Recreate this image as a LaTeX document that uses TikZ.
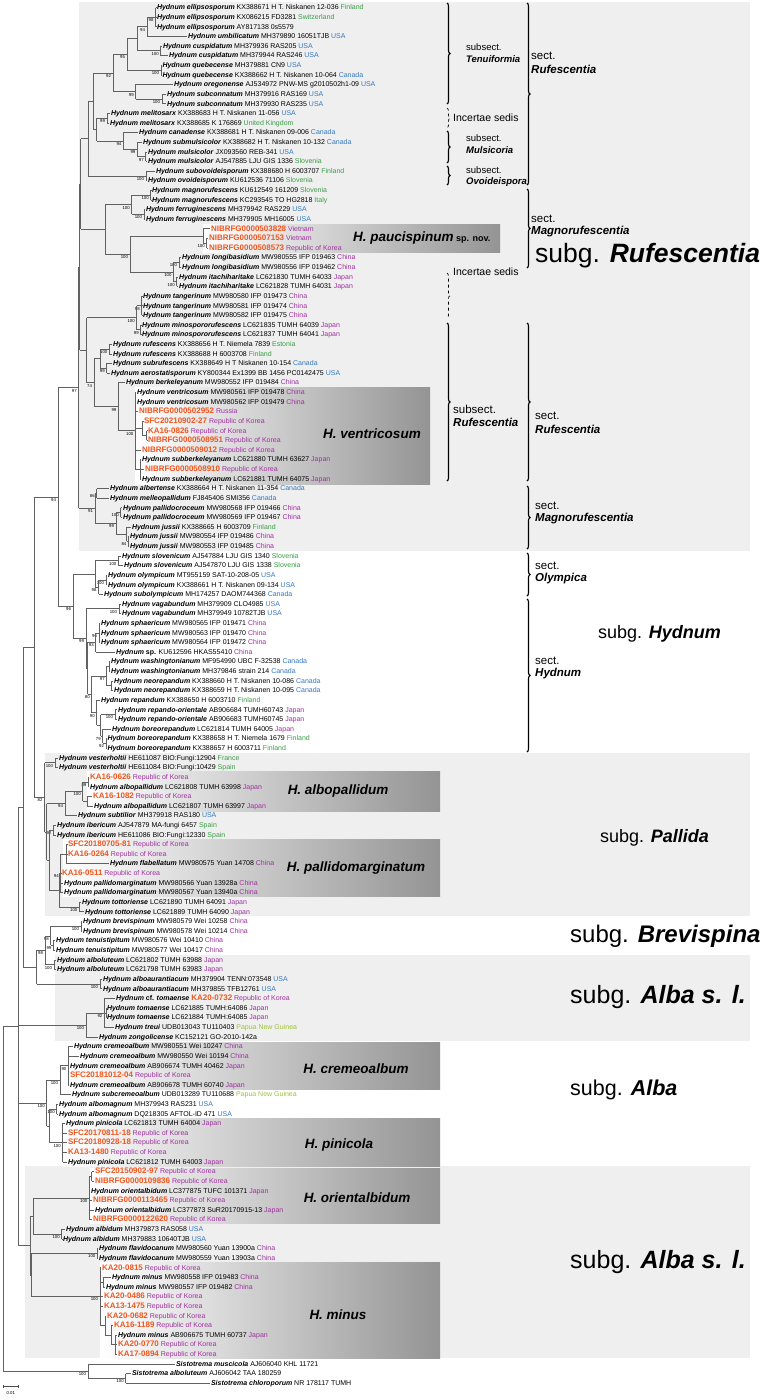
\documentclass[tikz,border=0pt]{standalone}
\usepackage{fontspec}
\setmainfont{Liberation Sans}
\usetikzlibrary{decorations.pathreplacing}
\definecolor{cG}{HTML}{3A9E47}
\definecolor{cB}{HTML}{3478C0}
\definecolor{cP}{HTML}{A030A0}
\definecolor{cY}{HTML}{9CC43A}
\definecolor{cO}{HTML}{F0561E}
\definecolor{bgbox}{HTML}{EFEFEF}
\newcommand\spn[1]{\textbf{\textit{#1}}}
\newcommand\gG[1]{\textcolor{cG}{#1}}
\newcommand\gB[1]{\textcolor{cB}{#1}}
\newcommand\gP[1]{\textcolor{cP}{#1}}
\newcommand\gY[1]{\textcolor{cY}{#1}}
\newcommand\gO[1]{{\fontsize{8}{9}\selectfont\textbf{\textcolor{cO}{#1}}}}
\newcommand\leafn[4]{%
  \pgfmathsetmacro\tmpy{7.5+9.62*#2}%
  \expandafter\xdef\csname Y#1\endcsname{\tmpy}%
  \coordinate (#1) at (#3,\tmpy);%
  \node[lab] (t#1) at (#1) {#4};%
}
\newcommand\claden[4]{%
  \foreach \c [count=\k] in {#3}{\ifnum\k=1 \xdef\cfirst{\c}\fi\xdef\clast{\c}}%
  \pgfmathsetmacro\tmpy{(\csname Y\cfirst\endcsname+\csname Y\clast\endcsname)/2}%
  \expandafter\xdef\csname Y#1\endcsname{\tmpy}%
  \coordinate (#1) at (#2,\tmpy);%
  \draw[br] (#1 |- \cfirst) -- (#1 |- \clast);%
  \foreach \c in {#3}{\draw[br] (#1 |- \c) -- (\c);}%
  \ifx\relax#4\relax\else\node[bsl] (b#1) at (#1) {#4};\fi
}
\tikzset{
 br/.style={draw=black!62, line width=0.6pt},
 lab/.style={anchor=west, inner xsep=0.8pt, inner ysep=0pt, font=\fontsize{7}{8}\selectfont, text height=5.6pt, text depth=1.0pt},
 bsl/.style={anchor=north east, inner sep=0pt, font=\fontsize{4.3}{5}\selectfont, xshift=-1.8pt, yshift=-1.2pt},
 bigl/.style={anchor=west, inner sep=0pt},
 secl/.style={anchor=west, inner sep=0pt, font=\fontsize{11.5}{12}\selectfont},
 subl/.style={anchor=west, inner sep=0pt, font=\fontsize{9.5}{11}\selectfont},
 incl/.style={anchor=west, inner sep=0pt, font=\fontsize{10.5}{12}\selectfont},
 spl/.style={inner sep=0pt, font=\fontsize{13.5}{15}\selectfont\bfseries\itshape},
 brc/.style={decorate, decoration={brace, amplitude=3pt}, line width=1.1pt},
 bgb/.style={fill=bgbox},
 grb/.style={left color=white, right color=black!42},
}
\begin{document}
\begin{tikzpicture}[x=1pt,y=-1pt]
\useasboundingbox (0,0) rectangle (767,1400);
\fill[white] (0,0) rectangle (767,1400);
% subgenus background boxes
\fill[bgb] (79,2) rectangle (750,551);
\fill[bgb] (45,753) rectangle (750,916);
\fill[bgb] (55,955) rectangle (750,1041);
\fill[bgb] (25,1166) rectangle (750,1358);
% species gradient boxes
\shade[grb] (203,224) rectangle (500,252);
\shade[grb] (135,387) rectangle (430,484);
\shade[grb] (87,771) rectangle (440,811);
\shade[grb] (63,839) rectangle (440,896);
\shade[grb] (68,1042) rectangle (440,1089);
\shade[grb] (63,1118) rectangle (440,1166);
\shade[grb] (90,1168) rectangle (440,1223);
\shade[grb] (100,1262) rectangle (440,1358);
% leaves
\leafn{L0}{0}{156}{\spn{Hydnum ellipsosporum} KX388671 H T. Niskanen 12-036 \gG{Finland}}
\leafn{L1}{1}{156}{\spn{Hydnum ellipsosporum} KX086215 FD3281 \gG{Switzerland}}
\leafn{L2}{2}{156}{\spn{Hydnum ellipsosporum} AY817138 0s5579}
\leafn{L3}{3}{187}{\spn{Hydnum umbilicatum} MH379890 16051TJB \gB{USA}}
\leafn{L4}{4}{162}{\spn{Hydnum cuspidatum} MH379936 RAS205 \gB{USA}}
\leafn{L5}{5}{168}{\spn{Hydnum cuspidatum} MH379944 RAS246 \gB{USA}}
\leafn{L6}{6}{161.5}{\spn{Hydnum quebecense} MH379881 CN9 \gB{USA}}
\leafn{L7}{7}{161.5}{\spn{Hydnum quebecense} KX388662 H T. Niskanen 10-064 \gB{Canada}}
\leafn{L8}{8}{173}{\spn{Hydnum oregonense} AJ534972 PNW-MS g2010502h1-09 \gB{USA}}
\leafn{L9}{9}{166}{\spn{Hydnum subconnatum} MH379916 RAS169 \gB{USA}}
\leafn{L10}{10}{166}{\spn{Hydnum subconnatum} MH379930 RAS235 \gB{USA}}
\leafn{L11}{11}{110}{\spn{Hydnum melitosarx} KX388683 H T. Niskanen 11-056 \gB{USA}}
\leafn{L12}{12}{109}{\spn{Hydnum melitosarx} KX388685 K 176869 \gG{United Kingdom}}
\leafn{L13}{13}{138}{\spn{Hydnum canadense} KX388681 H T. Niskanen 09-006 \gB{Canada}}
\leafn{L14}{14}{142}{\spn{Hydnum submulsicolor} KX388682 H T. Niskanen 10-132 \gB{Canada}}
\leafn{L15}{15}{147}{\spn{Hydnum mulsicolor} JX093560 REB-341 \gB{USA}}
\leafn{L16}{16}{147}{\spn{Hydnum mulsicolor} AJ547885 LJU GIS 1336 \gG{Slovenia}}
\leafn{L17}{17}{155}{\spn{Hydnum subovoideisporum} KX388680 H 6003707 \gG{Finland}}
\leafn{L18}{18}{147}{\spn{Hydnum ovoideisporum} KU612536 71106 \gG{Slovenia}}
\leafn{L19}{19}{151}{\spn{Hydnum magnorufescens} KU612549 161209 \gG{Slovenia}}
\leafn{L20}{20}{151}{\spn{Hydnum magnorufescens} KC293545 TO HG2818 \gG{Italy}}
\leafn{L21}{21}{145}{\spn{Hydnum ferruginescens} MH379942 RAS229 \gB{USA}}
\leafn{L22}{22}{145}{\spn{Hydnum ferruginescens} MH379905 MH16005 \gB{USA}}
\leafn{L23}{23}{210}{\gO{NIBRFG0000503828} \gP{Vietnam}}
\leafn{L24}{24}{208}{\gO{NIBRFG0000507153} \gP{Vietnam}}
\leafn{L25}{25}{208}{\gO{NIBRFG0000508573} \gP{Republic of Korea}}
\leafn{L26}{26}{181}{\spn{Hydnum longibasidium} MW980555 IFP 019463 \gP{China}}
\leafn{L27}{27}{181}{\spn{Hydnum longibasidium} MW980556 IFP 019462 \gP{China}}
\leafn{L28}{28}{178}{\spn{Hydnum itachiharitake} LC621830 TUMH 64033 \gP{Japan}}
\leafn{L29}{29}{178}{\spn{Hydnum itachiharitake} LC621828 TUMH 64031 \gP{Japan}}
\leafn{L30}{30}{142}{\spn{Hydnum tangerinum} MW980580 IFP 019473 \gP{China}}
\leafn{L31}{31}{142}{\spn{Hydnum tangerinum} MW980581 IFP 019474 \gP{China}}
\leafn{L32}{32}{142}{\spn{Hydnum tangerinum} MW980582 IFP 019475 \gP{China}}
\leafn{L33}{33}{141}{\spn{Hydnum minospororufescens} LC621835 TUMH 64039 \gP{Japan}}
\leafn{L34}{34}{141}{\spn{Hydnum minospororufescens} LC621837 TUMH 64041 \gP{Japan}}
\leafn{L35}{35}{112}{\spn{Hydnum rufescens} KX388656 H T. Niemela 7839 \gG{Estonia}}
\leafn{L36}{36}{112}{\spn{Hydnum rufescens} KX388688 H 6003708 \gG{Finland}}
\leafn{L37}{37}{112}{\spn{Hydnum subrufescens} KX388649 H T Niskanen 10-154 \gB{Canada}}
\leafn{L38}{38}{110}{\spn{Hydnum aerostatisporum} KY800344 Ex1399 BB 1456 PC0142475 \gB{USA}}
\leafn{L39}{39}{125}{\spn{Hydnum berkeleyanum} MW980552 IFP 019484 \gP{China}}
\leafn{L40}{40}{136}{\spn{Hydnum ventricosum} MW980561 IFP 019478 \gP{China}}
\leafn{L41}{41}{136}{\spn{Hydnum ventricosum} MW980562 IFP 019479 \gP{China}}
\leafn{L42}{42}{138}{\gO{NIBRFG0000502952} \gP{Russia}}
\leafn{L43}{43}{143}{\gO{SFC20210902-27} \gP{Republic of Korea}}
\leafn{L44}{44}{147}{\gO{KA16-0826} \gP{Republic of Korea}}
\leafn{L45}{45}{147}{\gO{NIBRFG0000508951} \gP{Republic of Korea}}
\leafn{L46}{46}{141}{\gO{NIBRFG0000509012} \gP{Republic of Korea}}
\leafn{L47}{47}{141}{\spn{Hydnum subberkeleyanum} LC621880 TUMH 63627 \gP{Japan}}
\leafn{L48}{48}{144}{\gO{NIBRFG0000508910} \gP{Republic of Korea}}
\leafn{L49}{49}{141}{\spn{Hydnum subberkeleyanum} LC621881 TUMH 64075 \gP{Japan}}
\leafn{L50}{50}{109}{\spn{Hydnum albertense} KX388664 H T. Niskanen 11-354 \gB{Canada}}
\leafn{L51}{51}{109}{\spn{Hydnum melleopallidum} FJ845406 SMI356 \gB{Canada}}
\leafn{L52}{52}{122}{\spn{Hydnum pallidocroceum} MW980568 IFP 019466 \gP{China}}
\leafn{L53}{53}{122}{\spn{Hydnum pallidocroceum} MW980569 IFP 019467 \gP{China}}
\leafn{L54}{54}{131}{\spn{Hydnum jussii} KX388665 H 6003709 \gG{Finland}}
\leafn{L55}{55}{129}{\spn{Hydnum jussii} MW980554 IFP 019486 \gP{China}}
\leafn{L56}{56}{129}{\spn{Hydnum jussii} MW980553 IFP 019485 \gP{China}}
\leafn{L57}{57}{121}{\spn{Hydnum slovenicum} AJ547884 LJU GIS 1340 \gG{Slovenia}}
\leafn{L58}{58}{123}{\spn{Hydnum slovenicum} AJ547870 LJU GIS 1338 \gG{Slovenia}}
\leafn{L59}{59}{107}{\spn{Hydnum olympicum} MT955159 SAT-10-208-05 \gB{USA}}
\leafn{L60}{60}{107}{\spn{Hydnum olympicum} KX388661 H T. Niskanen 09-134 \gB{USA}}
\leafn{L61}{61}{103}{\spn{Hydnum subolympicum} MH174257 DAOM744368 \gB{Canada}}
\leafn{L62}{62}{121}{\spn{Hydnum vagabundum} MH379909 CLO4985 \gB{USA}}
\leafn{L63}{63}{121}{\spn{Hydnum vagabundum} MH379949 10782TJB \gB{USA}}
\leafn{L64}{64}{100}{\spn{Hydnum sphaericum} MW980565 IFP 019471 \gP{China}}
\leafn{L65}{65}{100}{\spn{Hydnum sphaericum} MW980563 IFP 019470 \gP{China}}
\leafn{L66}{66}{100}{\spn{Hydnum sphaericum} MW980564 IFP 019472 \gP{China}}
\leafn{L67}{67}{115}{\spn{Hydnum} \textbf{sp.} KU612596 HKAS55410 \gP{China}}
\leafn{L68}{68}{110}{\spn{Hydnum washingtonianum} MF954990 UBC F-32538 \gB{Canada}}
\leafn{L69}{69}{110}{\spn{Hydnum washingtonianum} MH379846 strain 214 \gB{Canada}}
\leafn{L70}{70}{113}{\spn{Hydnum neorepandum} KX388660 H T. Niskanen 10-086 \gB{Canada}}
\leafn{L71}{71}{113}{\spn{Hydnum neorepandum} KX388659 H T. Niskanen 10-095 \gB{Canada}}
\leafn{L72}{72}{100}{\spn{Hydnum repandum} KX388650 H 6003710 \gG{Finland}}
\leafn{L73}{73}{117}{\spn{Hydnum repando-orientale} AB906684 TUMH60743 \gP{Japan}}
\leafn{L74}{74}{117}{\spn{Hydnum repando-orientale} AB906683 TUMH60745 \gP{Japan}}
\leafn{L75}{75}{111}{\spn{Hydnum boreorepandum} LC621814 TUMH 64005 \gP{Japan}}
\leafn{L76}{76}{106.5}{\spn{Hydnum boreorepandum} KX388658 H T. Niemela 1679 \gG{Finland}}
\leafn{L77}{77}{106.5}{\spn{Hydnum boreorepandum} KX388657 H 6003711 \gG{Finland}}
\leafn{L78}{78}{58}{\spn{Hydnum vesterholtii} HE611087 BIO:Fungi:12904 \gG{France}}
\leafn{L79}{79}{58}{\spn{Hydnum vesterholtii} HE611084 BIO:Fungi:10429 \gG{Spain}}
\leafn{L80}{80}{89}{\gO{KA16-0626} \gP{Republic of Korea}}
\leafn{L81}{81}{89}{\spn{Hydnum albopallidum} LC621808 TUMH 63998 \gP{Japan}}
\leafn{L82}{82}{92}{\gO{KA16-1082} \gP{Republic of Korea}}
\leafn{L83}{83}{93}{\spn{Hydnum albopallidum} LC621807 TUMH 63997 \gP{Japan}}
\leafn{L84}{84}{77}{\spn{Hydnum subtilior} MH379918 RAS180 \gB{USA}}
\leafn{L85}{85}{56}{\spn{Hydnum ibericum} AJ547879 MA-fungi 6457 \gG{Spain}}
\leafn{L86}{86}{56}{\spn{Hydnum ibericum} HE611086 BIO:Fungi:12330 \gG{Spain}}
\leafn{L87}{87}{67}{\gO{SFC20180705-81} \gP{Republic of Korea}}
\leafn{L88}{88}{67}{\gO{KA16-0264} \gP{Republic of Korea}}
\leafn{L89}{89}{109}{\spn{Hydnum flabellatum} MW980575 Yuan 14708 \gP{China}}
\leafn{L90}{90}{61}{\gO{KA16-0511} \gP{Republic of Korea}}
\leafn{L91}{91}{63}{\spn{Hydnum pallidomarginatum} MW980566 Yuan 13928a \gP{China}}
\leafn{L92}{92}{63}{\spn{Hydnum pallidomarginatum} MW980567 Yuan 13940a \gP{China}}
\leafn{L93}{93}{81}{\spn{Hydnum tottoriense} LC621890 TUMH 64091 \gP{Japan}}
\leafn{L94}{94}{84}{\spn{Hydnum tottoriense} LC621889 TUMH 64090 \gP{Japan}}
\leafn{L95}{95}{82}{\spn{Hydnum brevispinum} MW980579 Wei 10258 \gP{China}}
\leafn{L96}{96}{82}{\spn{Hydnum brevispinum} MW980578 Wei 10214 \gP{China}}
\leafn{L97}{97}{55}{\spn{Hydnum tenuistipitum} MW980576 Wei 10410 \gP{China}}
\leafn{L98}{98}{55}{\spn{Hydnum tenuistipitum} MW980577 Wei 10417 \gP{China}}
\leafn{L99}{99}{56}{\spn{Hydnum alboluteum} LC621802 TUMH 63988 \gP{Japan}}
\leafn{L100}{100}{56}{\spn{Hydnum alboluteum} LC621798 TUMH 63983 \gP{Japan}}
\leafn{L101}{101}{102}{\spn{Hydnum alboaurantiacum} MH379904 TENN:073548 \gB{USA}}
\leafn{L102}{102}{102}{\spn{Hydnum alboaurantiacum} MH379855 TFB12761 \gB{USA}}
\leafn{L103}{103}{115}{\spn{Hydnum} \textbf{cf.} \spn{tomaense} \gO{KA20-0732} \gP{Republic of Korea}}
\leafn{L104}{104}{106}{\spn{Hydnum tomaense} LC621885 TUMH:64086 \gP{Japan}}
\leafn{L105}{105}{106}{\spn{Hydnum tomaense} LC621884 TUMH:64085 \gP{Japan}}
\leafn{L106}{106}{114}{\spn{Hydnum treui} UDB013043 TU110403 \gY{Papua New Guinea}}
\leafn{L107}{107}{98}{\spn{Hydnum zongolicense} KC152121 GO-2010-142a}
\leafn{L108}{108}{73}{\spn{Hydnum cremeoalbum} MW980551 Wei 10247 \gP{China}}
\leafn{L109}{109}{79}{\spn{Hydnum cremeoalbum} MW980550 Wei 10194 \gP{China}}
\leafn{L110}{110}{69}{\spn{Hydnum cremeoalbum} AB906674 TUMH 40462 \gP{Japan}}
\leafn{L111}{111}{69}{\gO{SFC20181012-04} \gP{Republic of Korea}}
\leafn{L112}{112}{69}{\spn{Hydnum cremeoalbum} AB906678 TUMH 60740 \gP{Japan}}
\leafn{L113}{113}{71}{\spn{Hydnum subcremeoalbum} UDB013289 TU110688 \gY{Papua New Guinea}}
\leafn{L114}{114}{58}{\spn{Hydnum albomagnum} MH379943 RAS231 \gB{USA}}
\leafn{L115}{115}{58}{\spn{Hydnum albomagnum} DQ218305 AFTOL-ID 471 \gB{USA}}
\leafn{L116}{116}{65}{\spn{Hydnum pinicola} LC621813 TUMH 64004 \gP{Japan}}
\leafn{L117}{117}{67}{\gO{SFC20170811-18} \gP{Republic of Korea}}
\leafn{L118}{118}{67}{\gO{SFC20180928-18} \gP{Republic of Korea}}
\leafn{L119}{119}{67}{\gO{KA13-1480} \gP{Republic of Korea}}
\leafn{L120}{120}{67}{\spn{Hydnum pinicola} LC621812 TUMH 64003 \gP{Japan}}
\leafn{L121}{121}{94}{\gO{SFC20150902-97} \gP{Republic of Korea}}
\leafn{L122}{122}{94}{\gO{NIBRFG0000109836} \gP{Republic of Korea}}
\leafn{L123}{123}{90}{\spn{Hydnum orientalbidum} LC377875 TUFC 101371 \gP{Japan}}
\leafn{L124}{124}{92}{\gO{NIBRFG0000113465} \gP{Republic of Korea}}
\leafn{L125}{125}{94}{\spn{Hydnum orientalbidum} LC377873 SuR20170915-13 \gP{Japan}}
\leafn{L126}{126}{92}{\gO{NIBRFG0000122620} \gP{Republic of Korea}}
\leafn{L127}{127}{65}{\spn{Hydnum albidum} MH379873 RAS058 \gB{USA}}
\leafn{L128}{128}{62}{\spn{Hydnum albidum} MH379883 10640TJB \gB{USA}}
\leafn{L129}{129}{98}{\spn{Hydnum flavidocanum} MW980560 Yuan 13900a \gP{China}}
\leafn{L130}{130}{98}{\spn{Hydnum flavidocanum} MW980559 Yuan 13903a \gP{China}}
\leafn{L131}{131}{101}{\gO{KA20-0815} \gP{Republic of Korea}}
\leafn{L132}{132}{111}{\spn{Hydnum minus} MW980558 IFP 019483 \gP{China}}
\leafn{L133}{133}{105}{\spn{Hydnum minus} MW980557 IFP 019482 \gP{China}}
\leafn{L134}{134}{103}{\gO{KA20-0486} \gP{Republic of Korea}}
\leafn{L135}{135}{103}{\gO{KA13-1475} \gP{Republic of Korea}}
\leafn{L136}{136}{106}{\gO{KA20-0682} \gP{Republic of Korea}}
\leafn{L137}{137}{113}{\gO{KA16-1189} \gP{Republic of Korea}}
\leafn{L138}{138}{117}{\spn{Hydnum minus} AB906675 TUMH 60737 \gP{Japan}}
\leafn{L139}{139}{117}{\gO{KA20-0770} \gP{Republic of Korea}}
\leafn{L140}{140}{117}{\gO{KA17-0894} \gP{Republic of Korea}}
\leafn{L141}{141}{175}{\spn{Sistotrema muscicola} AJ606040 KHL 11721}
\leafn{L142}{142}{131}{\spn{Sistotrema alboluteum} AJ606042 TAA 180259}
\leafn{L143}{143}{210}{\spn{Sistotrema chloroporum} NR 178117 TUMH}
% clades: subg. Rufescentia
\claden{E1}{155.5}{L0,L1,L2}{98}
\claden{E2}{147}{E1,L3}{94}
\claden{C1}{160.7}{L4,L5}{100}
\claden{E3}{137}{E2,C1}{}
\claden{Q1}{161}{L6,L7}{100}
\claden{E5}{127}{E3,Q1}{95}
\claden{S1}{162}{L9,L10}{100}
\claden{O1}{135.7}{L8,S1}{99}
\claden{E6}{113}{E5,O1}{92}
\claden{M1}{107}{L11,L12}{99}
\claden{Mu1}{145.7}{L15,L16}{97}
\claden{Mu2}{137.3}{L14,Mu1}{99}
\claden{K}{123.3}{L13,Mu2}{94}
\claden{R1}{96.7}{M1,K}{}
\claden{R2}{93}{E6,R1}{}
\claden{O2}{146}{L17,L18}{100}
\claden{R3}{88}{R2,O2}{}
\claden{Mg1}{150.7}{L19,L20}{100}
\claden{F1}{144}{L21,L22}{100}
\claden{Mg2}{131.7}{Mg1,F1}{100}
\claden{Pa1}{206.7}{L24,L25}{100}
\claden{Pa2}{203.3}{L23,Pa1}{}
\claden{Lo1}{179}{L26,L27}{100}
\claden{It1}{176.7}{L28,L29}{100}
\claden{Lo2}{173.5}{Lo1,It1}{100}
\claden{Pa3}{130}{Pa2,Lo2}{100}
\claden{Mg3}{105}{Mg2,Pa3}{}
\claden{R4}{80.5}{R3,Mg3}{}
\claden{T1}{141.7}{L30,L31,L32}{98}
\claden{Mi1}{140.7}{L33,L34}{99}
\claden{T2}{136.7}{T1,Mi1}{100}
\claden{Ru1}{109.3}{L35,L36}{100}
\claden{Su1}{106.7}{L37,L38}{99}
\claden{Ru2}{100}{Ru1,Su1}{}
\claden{V1}{146.7}{L44,L45}{}
\claden{V2}{142.7}{L43,V1}{}
\claden{V3}{140}{L47,L48,L49}{}
\claden{Ve}{135.3}{L40,L41,L42,V2,L46,V3}{100}
\claden{B1}{118.3}{L39,Ve}{99}
\claden{Rs}{94}{Ru2,B1}{74}
\claden{T3}{86.7}{T2,Rs}{}
\claden{R5}{79.7}{R4,T3}{}
\claden{Al1}{96.7}{L50,L51}{86}
\claden{Pc1}{120.7}{L52,L53}{100}
\claden{J1}{128.3}{L55,L56}{84}
\claden{J2}{126.7}{L54,J1}{}
\claden{Pc2}{116}{Pc1,J2}{99}
\claden{MgB}{95}{Al1,Pc2}{91}
\claden{Rc}{78.7}{R5,MgB}{97}
% subg. Hydnum
\claden{Sl1}{118.3}{L57,L58}{100}
\claden{Ol1}{106}{L59,L60}{100}
\claden{Ol2}{98.5}{Ol1,L61}{98}
\claden{Ol3}{95}{Sl1,Ol2}{}
\claden{Va1}{119}{L62,L63}{100}
\claden{Sp1}{99}{L64,L65,L66}{96}
\claden{Sp2}{95.7}{Sp1,L67}{93}
\claden{Wa1}{109.3}{L68,L69}{}
\claden{Ne1}{111.7}{L70,L71}{}
\claden{Wn}{106.7}{Wa1,Ne1}{97}
\claden{Ro1}{115}{L73,L74}{100}
\claden{Bo1}{106}{L76,L77}{92}
\claden{Bo2}{102.7}{L75,Bo1}{79}
\claden{Rb}{100.5}{Ro1,Bo2}{}
\claden{Rp}{96.7}{L72,Rb}{90}
\claden{Wr}{91.7}{Wn,Rp}{80}
\claden{Hs}{87.5}{Sp2,Wr}{}
\claden{Hy}{86}{Va1,Hs}{99}
\claden{Hc}{73}{Ol3,Hy}{96}
\claden{N58}{58}{Rc,Hc}{94}
% subg. Pallida
\claden{Vh1}{55}{L78,L79}{100}
\claden{Ab1}{88.3}{L80,L81}{89}
\claden{Ab3}{87.3}{L82,L83}{}
\claden{Ab2}{82.7}{Ab1,Ab3}{100}
\claden{Ab4}{65}{Ab2,L84}{94}
\claden{Ib1}{53.3}{L85,L86}{92}
\claden{Pm1}{66.7}{L87,L88,L89}{}
\claden{Pm2}{60.7}{Pm1,L90,L91,L92}{94}
\claden{To1}{79.3}{L93,L94}{100}
\claden{Pm5}{59}{Pm2,To1}{}
\claden{Ib2}{49.3}{Ib1,Pm5}{}
\claden{Pal2}{46.7}{Ab4,Ib2}{}
\claden{Pal}{44.5}{Vh1,Pal2}{82}
\claden{N34}{34.3}{N58,Pal}{}
% Brevispina etc.
\claden{Br1}{81}{L95,L96}{100}
\claden{Tn1}{53.3}{L97,L98}{99}
\claden{Br2}{50.7}{Br1,Tn1}{98}
\claden{Alb1}{54}{L99,L100}{100}
\claden{Br3}{45}{Br2,Alb1}{98}
\claden{Aa1}{100}{L101,L102}{100}
\claden{Br4}{36.7}{Br3,Aa1}{}
\claden{N23}{23.3}{N34,Br4}{}
% Alba
\claden{Tm1}{106}{L104,L105}{}
\claden{Tm2}{104.3}{L103,Tm1,L106}{92}
\claden{Tm3}{86}{Tm2,L107}{100}
\claden{Cr2}{68.3}{L108,L109,L110,L111,L112}{90}
\claden{Cr3}{60}{Cr2,L113}{100}
\claden{Am1}{56.7}{L114,L115}{100}
\claden{Pi1}{62.7}{L116,L117,L118,L119,L120}{100}
\claden{Am2}{49.3}{Am1,Pi1}{}
\claden{Cr5}{46.7}{Cr3,Am2}{100}
\claden{Or1}{91.7}{L121,L122}{}
\claden{Or2}{89.3}{Or1,L123,L124,L125,L126}{100}
\claden{Ad1}{61.7}{L127,L128}{100}
\claden{Or3}{33.3}{Or2,Ad1}{}
\claden{Fl1}{97.3}{L129,L130}{100}
\claden{Mn1}{115}{L138,L139,L140}{}
\claden{Mn2}{111}{L137,Mn1}{}
\claden{Mn3}{105}{L136,Mn2}{}
\claden{Mn4}{103.3}{L132,L133}{}
\claden{Mn5}{100}{L131,Mn4,L134,L135,Mn3}{100}
\claden{Mn6}{31.7}{Fl1,Mn5}{}
\claden{W}{30}{Or3,Mn6}{}
\claden{Ig}{18.3}{N23,Tm3,Cr5,W}{}
\claden{S2}{125.7}{L142,L143}{100}
\claden{S}{88}{L141,S2}{100}
\claden{Root}{3.3}{Ig,S}{}
% species labels
\node[spl,anchor=west] (sPau) at (353,238) {H. paucispinum\fontsize{9}{10}\selectfont\upshape\ sp. nov.};
\node[spl] (sVen) at (372,434) {H. ventricosum};
\node[spl] (sAlp) at (338,791) {H. albopallidum};
\node[spl] (sPam) at (356,868) {H. pallidomarginatum};
\node[spl] (sCre) at (356,1069) {H. cremeoalbum};
\node[spl] (sPin) at (339,1145) {H. pinicola};
\node[spl] (sOri) at (357,1198) {H. orientalbidum};
\node[spl] (sMin) at (338,1315) {H. minus};
% brackets
\coordinate (k1a) at (447,3);   \coordinate (k1b) at (447,104);
\coordinate (k2a) at (447,108); \coordinate (k2b) at (447,128);
\coordinate (k3a) at (447,131); \coordinate (k3b) at (447,163);
\coordinate (k4a) at (447,166); \coordinate (k4b) at (447,185);
\coordinate (k5a) at (447,273); \coordinate (k5b) at (447,318);
\coordinate (k6a) at (447,323); \coordinate (k6b) at (447,481);
\coordinate (m1a) at (527,3);   \coordinate (m1b) at (527,185);
\coordinate (m2a) at (527,189); \coordinate (m2b) at (527,268);
\coordinate (m3a) at (527,323); \coordinate (m3b) at (527,481);
\coordinate (m4a) at (527,486); \coordinate (m4b) at (527,549);
\coordinate (m5a) at (527,553); \coordinate (m5b) at (527,596);
\coordinate (m6a) at (527,599); \coordinate (m6b) at (527,752);
\draw[brc] (k1a) -- (k1b);
\draw[brc,dashed,line width=0.7pt] (k2a) -- (k2b);
\draw[brc] (k3a) -- (k3b);
\draw[brc] (k4a) -- (k4b);
\draw[brc,dashed,line width=0.7pt] (k5a) -- (k5b);
\draw[brc] (k6a) -- (k6b);
\draw[brc] (m1a) -- (m1b);
\draw[brc] (m2a) -- (m2b);
\draw[brc] (m3a) -- (m3b);
\draw[brc] (m4a) -- (m4b);
\draw[brc] (m5a) -- (m5b);
\draw[brc] (m6a) -- (m6b);
% section labels
\node[subl] (q1) at (466,47) {subsect.};
\node[subl] (q1b) at (466,59) {\spn{Tenuiformia}};
\node[incl] (q2) at (453,118) {Incertae sedis};
\node[subl] (q3) at (466,138) {subsect.};
\node[subl] (q3b) at (466,150) {\spn{Mulsicoria}};
\node[subl] (q4) at (466,170) {subsect.};
\node[subl] (q4b) at (466,182) {\spn{Ovoideispora}};
\node[secl] (p1) at (531,56) {sect.};
\node[secl] (p1b) at (531,69) {\spn{Rufescentia}};
\node[secl] (p2) at (531,219) {sect.};
\node[secl] (p2b) at (531,232) {\spn{Magnorufescentia}};
\node[incl] (q5) at (453,272) {Incertae sedis};
\node[secl] (q6) at (453,409) {subsect.};
\node[secl] (q6b) at (453,422) {\spn{Rufescentia}};
\node[secl] (p3) at (535,416) {sect.};
\node[secl] (p3b) at (535,429) {\spn{Rufescentia}};
\node[secl] (p4) at (535,506) {sect.};
\node[secl] (p4b) at (535,519) {\spn{Magnorufescentia}};
\node[secl] (p5) at (535,566) {sect.};
\node[secl] (p5b) at (535,579) {\spn{Olympica}};
\node[secl] (p6) at (535,661) {sect.};
\node[secl] (p6b) at (535,674) {\spn{Hydnum}};
% subgenus labels
\node[bigl,font=\fontsize{26.5}{28}\selectfont] (g1) at (535,256) {subg. \spn{Rufescentia}};
\node[bigl,font=\fontsize{18}{20}\selectfont] (g2) at (598,634) {subg. \spn{Hydnum}};
\node[bigl,font=\fontsize{18}{20}\selectfont] (g3) at (600,838) {subg. \spn{Pallida}};
\node[bigl,font=\fontsize{24}{26}\selectfont] (g4) at (570,936) {subg. \spn{Brevispina}};
\node[bigl,font=\fontsize{25}{27}\selectfont] (g5) at (570,997) {subg. \spn{Alba s. l.}};
\node[bigl,font=\fontsize{21.5}{23}\selectfont] (g6) at (570,1090) {subg. \spn{Alba}};
\node[bigl,font=\fontsize{25}{27}\selectfont] (g7) at (570,1262) {subg. \spn{Alba s. l.}};
% scale bar
\coordinate (sb1) at (3.3,1386.7);
\coordinate (sb2) at (18.3,1386.7);
\draw[black!70,line width=0.6pt] (sb1) -- (sb2);
\draw[black!70,line width=0.5pt] ([yshift=1.3pt]sb1) -- ([yshift=-1.3pt]sb1);
\draw[black!70,line width=0.5pt] ([yshift=1.3pt]sb2) -- ([yshift=-1.3pt]sb2);
\node[inner sep=0pt,font=\fontsize{4.3}{5}\selectfont] (sbl) at (10.8,1393) {0.01};
\end{tikzpicture}
\end{document}
